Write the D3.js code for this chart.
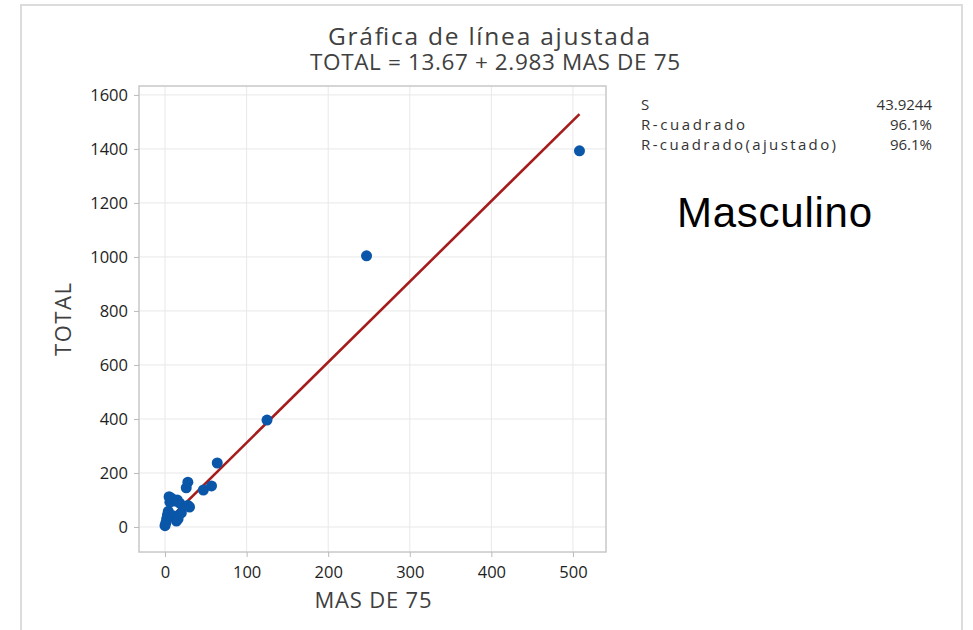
<!DOCTYPE html>
<html><head><meta charset="utf-8">
<script src="https://cdn.jsdelivr.net/npm/d3@7/dist/d3.min.js"></script>
<style>
body{margin:0;background:#fff;}
text{font-family:"Open Sans","Noto Sans",sans-serif;}
</style></head>
<body><svg id="c" width="973" height="630"></svg>
<script>
// Data
const masDe75 = [0, 1, 2, 3, 4, 6, 5, 8, 12, 15, 18, 10, 14, 16, 20, 28, 30, 26, 28, 47, 57, 64, 125, 247, 508];
const total   = [5, 15, 30, 45, 58, 92, 112, 106, 96, 100, 88, 42, 22, 30, 52, 80, 74, 145, 166, 137, 152, 237, 396, 1004, 1393];
const intercept = 13.67, slope = 2.983;
const xTicks = [0, 100, 200, 300, 400, 500];
const yTicks = [0, 200, 400, 600, 800, 1000, 1200, 1400, 1600];
const statLabels = ["S", "R-cuadrado", "R-cuadrado(ajustado)"];
const statValues = ["43.9244", "96.1%", "96.1%"];

const svg = d3.select("#c");
svg.append("rect").attr("x",21).attr("y",5).attr("width",941).attr("height",640)
  .attr("fill","none").attr("stroke","#dcdcdc").attr("stroke-width",2);

const L=139, R=606, T=86, B=552;
const x = d3.scaleLinear().domain([-31.9, 540.5]).range([L, R]);
const y = d3.scaleLinear().domain([-92.6, 1633]).range([B, T]);

const g = svg.append("g");
g.selectAll(".gx").data(xTicks).enter().append("line")
  .attr("x1",d=>x(d)).attr("x2",d=>x(d)).attr("y1",T).attr("y2",B)
  .attr("stroke","#e8e8e8").attr("stroke-width",1);
g.selectAll(".gy").data(yTicks).enter().append("line")
  .attr("y1",d=>y(d)).attr("y2",d=>y(d)).attr("x1",L).attr("x2",R)
  .attr("stroke","#e8e8e8").attr("stroke-width",1);
g.append("rect").attr("x",L).attr("y",T).attr("width",R-L).attr("height",B-T)
  .attr("fill","none").attr("stroke","#c8c8c8").attr("stroke-width",1.5);

const xa = svg.append("g").attr("transform",`translate(0,${B})`)
  .call(d3.axisBottom(x).tickValues(xTicks).tickSize(5).tickPadding(9).tickFormat(d3.format("d")));
const ya = svg.append("g").attr("transform",`translate(${L},0)`)
  .call(d3.axisLeft(y).tickValues(yTicks).tickSize(5).tickPadding(6).tickFormat(d3.format("d")));
[xa,ya].forEach(a=>{
  a.select(".domain").remove();
  a.selectAll(".tick line").attr("stroke","#bbb");
  a.selectAll(".tick text").attr("fill","#1e1e1e").style("font-size","16.5px")
   .style("font-family","'Open Sans',sans-serif");
});

const xmin = d3.min(masDe75), xmax = d3.max(masDe75);
svg.append("line")
  .attr("x1",x(xmin)).attr("y1",y(intercept+slope*xmin))
  .attr("x2",x(xmax)).attr("y2",y(intercept+slope*xmax))
  .attr("stroke","#a51c1c").attr("stroke-width",2.6);

svg.selectAll(".pt").data(masDe75.map((v,i)=>[v,total[i]])).enter().append("circle")
  .attr("cx",d=>x(d[0])).attr("cy",d=>y(d[1])).attr("r",5.5).attr("fill","#0a56a8");

function txt(xp, yp, s, size, w, anchor, fill, weight){
  const t = svg.append("text").attr("x",xp).attr("y",yp).attr("text-anchor",anchor||"start")
    .style("font-size",size+"px").style("font-weight",weight||"normal").attr("fill",fill||"#3c3c3c").text(s);
  if (w) t.attr("textLength",w).attr("lengthAdjust","spacing");
  return t;
}
txt(489, 45, "Gráfica de línea ajustada", 24.5, 322, "middle", "#404040", 500);
txt(495, 70, "TOTAL = 13.67 + 2.983 MAS DE 75", 22.5, 370, "middle", "#404040", 500);
txt(373, 608, "MAS DE 75", 22, 117, "middle", "#404040", 500);
svg.append("text").attr("transform","translate(71,319.5) rotate(-90)").attr("text-anchor","middle")
  .style("font-size","22px").style("font-weight",500).attr("fill","#404040")
  .attr("textLength",73).attr("lengthAdjust","spacing")
  .text("TOTAL");

const labW = [null, 104, 195];
const rowsY = [110, 130, 150];
statLabels.forEach((s,i)=>{
  txt(641, rowsY[i], s, 15, labW[i], "start", "#333");
  txt(932, rowsY[i], statValues[i], 15, null, "end", "#333");
});

svg.append("text").attr("x",677).attr("y",227)
  .style("font-family","'Liberation Sans',Arial,sans-serif").style("font-size","42px").attr("fill","#000")
  .attr("textLength",195).attr("lengthAdjust","spacing")
  .text("Masculino");
</script></body></html>
